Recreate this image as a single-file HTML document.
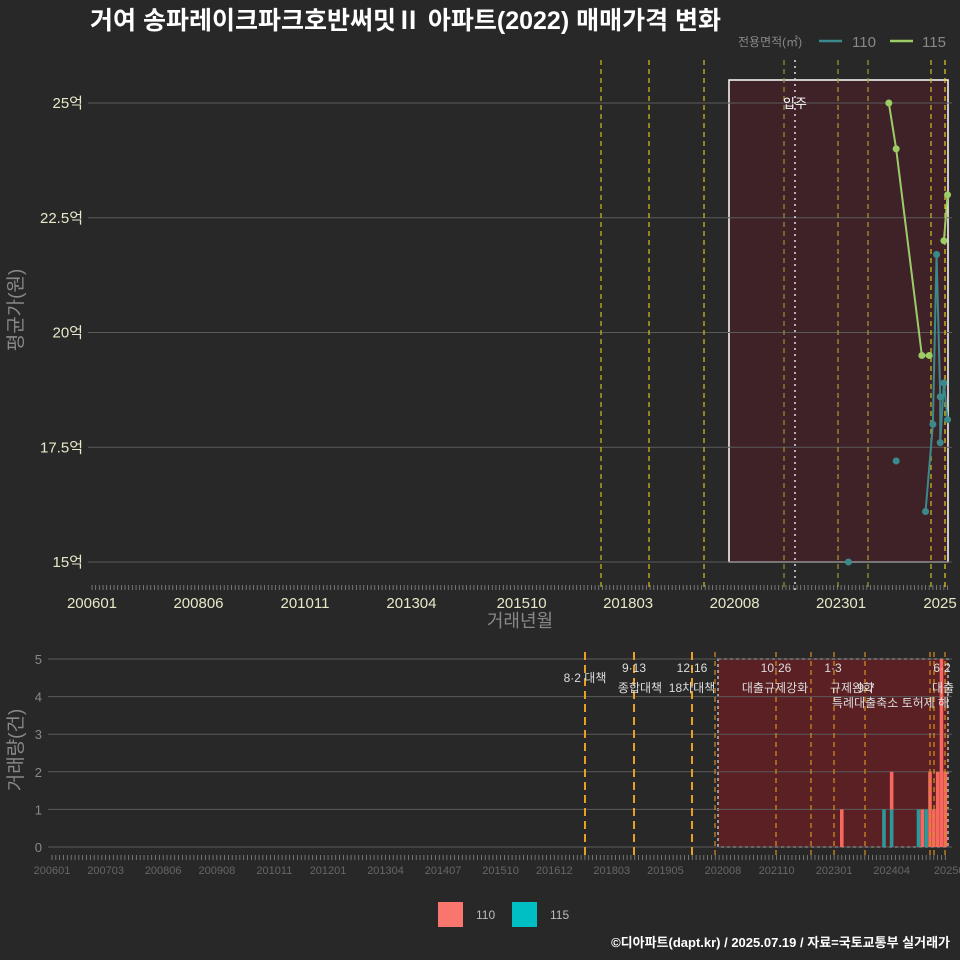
<!DOCTYPE html>
<html><head><meta charset="utf-8"><style>
body{margin:0;background:#282828;}
svg{display:block;font-family:"Liberation Sans","Noto Sans CJK KR",sans-serif;}
</style></head><body>
<svg id="c" width="960" height="960" viewBox="0 0 960 960" xmlns="http://www.w3.org/2000/svg">
<rect width="960" height="960" fill="#282828"/>
<text x="90" y="29" fill="#fff" font-size="25" font-weight="bold">거여 송파레이크파크호반써밋Ⅱ 아파트(2022) 매매가격 변화</text>
<g id="top"></g>
<g id="bot"></g>
<g>
<rect x="438" y="902" width="25" height="25" fill="#f8766d"/>
<text x="476" y="919" fill="#bbb" font-size="12">110</text>
<rect x="512" y="902" width="25" height="25" fill="#00bfc4"/>
<text x="550" y="919" fill="#bbb" font-size="12">115</text>
</g>
<text x="950" y="947" fill="#fff" font-size="13" font-weight="bold" text-anchor="end">©디아파트(dapt.kr) / 2025.07.19 / 자료=국토교통부 실거래가</text>
</svg>
<script>
// ---- data ----
const priceMonths110 = ['202303','202404','202412','202502','202503','202504','202504','202505','202506'];
const priceValues110 = [15.0,17.2,16.1,18.0,21.7,18.6,17.6,18.9,18.1];
const segBreaks110 = [1,2];
const priceMonths115 = ['202402','202404','202411','202501','202505','202506'];
const priceValues115 = [25.0,24.0,19.5,19.5,22.0,23.0];
const segBreaks115 = [4];
const volMonths110 = ['202303','202404','202412','202502','202503','202504','202505','202506'];
const volValues110 = [1,1,1,2,1,2,5,2];
const volMonths115 = ['202402','202404','202411','202501'];
const volValues115 = [1,1,1,1];
const yTicksTop = [15,17.5,20,22.5,25];
const yTickLabelsTop = ['15억','17.5억','20억','22.5억','25억'];
const xLabelsTop = ['200601','200806','201011','201304','201510','201803','202008','202301','202507'];
const xTextTop = ['200601','200806','201011','201304','201510','201803','202008','202301','2025'];
const xLabelsBot = ['200601','200703','200806','200908','201011','201201','201304','201407','201510','201612','201803','201905','202008','202110','202301','202404','202507'];
const xTextBot = ['200601','200703','200806','200908','201011','201201','201304','201407','201510','201612','201803','201905','202008','202110','202301','202404','20250'];
const yTicksBot = [0,1,2,3,4,5];
const policyMonths = ['201708','201809','201912','202110','202301','202309','202501','202506'];
const policyTop1 = ['8·2 대책','9·13','12·16','10·26','1·3','','','6·2'];
const policyTop2 = ['','종합대책','18차대책','대출규제강화','규제완화','9·7','','대출'];

const NS='http://www.w3.org/2000/svg';
function mk(p,t,a){const e=document.createElementNS(NS,t);for(const k in a)e.setAttribute(k,a[k]);p.appendChild(e);return e;}
function mi(s){return (parseInt(s.slice(0,4))-2006)*12+parseInt(s.slice(4))-1;}
const xt=m=>92+m*3.672, yt=v=>562-(v-15)*45.9;
const xb=m=>52+m*3.834, yb=v=>847-v*37.6;

// ---- top chart ----
const T=document.getElementById('top');
let sh=mk(T,'rect',{x:729,y:80,width:219,height:482,fill:'#3f2228',stroke:'#fff','stroke-width':1.5});


yTicksTop.forEach((v,i)=>{
 let l=mk(T,'line',{x1:88,x2:952,y1:yt(v),y2:yt(v),stroke:'#5a5a5a','stroke-width':1});
 
 
 let t=mk(T,'text',{x:83,y:yt(v)+5,fill:'#e8e8c8','font-size':15,'text-anchor':'end'});t.textContent=yTickLabelsTop[i];
 
 
});
for(let m=0;m<=233;m++){mk(T,'line',{x1:xt(m),x2:xt(m),y1:585,y2:590,stroke:'#888','stroke-width':0.8});}
xLabelsTop.forEach((s,i)=>{
 let t=mk(T,'text',{x:Math.min(xt(mi(s)),940),y:608,fill:'#e8e8c8','font-size':15,'text-anchor':'middle'});t.textContent=xTextTop[i];
 
 
});
const topLines=[[601,'#c8c020'],[649,'#d8c020'],[704,'#d8c020'],[784,'#8a9a30'],[838,'#a0a030'],[868,'#a0a030'],[931,'#c8c020'],[945,'#e8d020']];
topLines.forEach(([x,c])=>{let l=mk(T,'line',{x1:x,x2:x,y1:60,y2:590,stroke:c,'stroke-width':1.2,'stroke-dasharray':'5,4'});
 
 });
let dl=mk(T,'line',{x1:795,x2:795,y1:60,y2:590,stroke:'#ddd','stroke-width':1.5,'stroke-dasharray':'2,4'});


let ip=mk(T,'text',{x:795,y:108,fill:'#fff','font-size':13,'text-anchor':'middle'});ip.textContent='입주';


function series(months,vals,color,name,breaks){
 const pts=months.map((s,i)=>[xt(mi(s)),yt(vals[i])]);
 for(let i=1;i<pts.length;i++){ if(breaks.includes(i)) continue;
  let l=mk(T,'line',{x1:pts[i-1][0],y1:pts[i-1][1],x2:pts[i][0],y2:pts[i][1],stroke:color,'stroke-width':2});
  
  }
 pts.forEach(p=>{let c=mk(T,'circle',{cx:p[0],cy:p[1],r:3.5,fill:color});
  
  });
}
series(priceMonths115,priceValues115,'#9ccc65','area-115',segBreaks115);
series(priceMonths110,priceValues110,'#3a8a8c','area-110',segBreaks110);
let yt1=mk(T,'text',{x:22,y:310,fill:'#888','font-size':19,'text-anchor':'middle',transform:'rotate(-90 22 310)'});yt1.textContent='평균가(원)';


let xt1=mk(T,'text',{x:520,y:627,fill:'#888','font-size':18,'text-anchor':'middle'});xt1.textContent='거래년월';


let lg=mk(T,'text',{x:738,y:46,fill:'#888','font-size':12});lg.textContent='전용면적(㎡)';


mk(T,'line',{x1:819,x2:842,y1:41,y2:41,stroke:'#3a8a8c','stroke-width':2.5});
let l1=mk(T,'text',{x:852,y:47,fill:'#888','font-size':15});l1.textContent='110';


mk(T,'line',{x1:890,x2:913,y1:41,y2:41,stroke:'#9ccc65','stroke-width':2.5});
let l2=mk(T,'text',{x:922,y:47,fill:'#888','font-size':15});l2.textContent='115';



// ---- bottom chart ----
const B=document.getElementById('bot');
let sb=mk(B,'rect',{x:718,y:659,width:230,height:188,fill:'#5a2024',stroke:'#bbb','stroke-width':1.5,'stroke-dasharray':'3,3'});


yTicksBot.forEach(v=>{
 let l=mk(B,'line',{x1:48,x2:952,y1:yb(v),y2:yb(v),stroke:'#5a5a5a','stroke-width':1});
 
 
 let t=mk(B,'text',{x:42,y:yb(v)+5,fill:'#888','font-size':13,'text-anchor':'end'});t.textContent=v;
 
 
});
for(let m=0;m<=233;m++){mk(B,'line',{x1:xb(m),x2:xb(m),y1:855,y2:860,stroke:'#888','stroke-width':0.8});}
xLabelsBot.forEach((s,i)=>{
 let t=mk(B,'text',{x:xb(mi(s)),y:874,fill:'#666','font-size':11,'text-anchor':'middle'});t.textContent=xTextBot[i];
 
 
});
const bw=3.6, stack={};
function bars(months,vals,color,name){
 months.forEach((s,i)=>{const m=mi(s);const base=stack[m]||0;
  let r=mk(B,'rect',{x:xb(m)-bw/2,y:yb(base+vals[i]),width:bw,height:yb(base)-yb(base+vals[i]),fill:color});
  
  
  stack[m]=base+vals[i];});
}
bars(volMonths115,volValues115,'#2a9a9c','volume-115');
bars(volMonths110,volValues110,'#f8665d','volume-110');
const botLineX=[585,634,692,715,776,811,834,865,930,934,945];
botLineX.forEach((x,i)=>{let l=mk(B,'line',{x1:x,x2:x,y1:652,y2:856,stroke:i<3?'#e8a020':'#d89020','stroke-width':i<3?2:1.2,'stroke-dasharray':i<3?'8,5':'5,4'});
 
 });
const pos1=[[585,682],[634,672],[692,672],[776,672],[833,672],[0,0],[0,0],[942,672]];
const pos2=[[0,0],[640,692],[692,692],[775,692],[852,692],[866,692],[0,0],[943,692]];
policyMonths.forEach((s,i)=>{
 if(policyTop1[i]){let t=mk(B,'text',{x:pos1[i][0],y:pos1[i][1],fill:'#ddd','font-size':12,'text-anchor':'middle'});t.textContent=policyTop1[i];
  
  }
 if(policyTop2[i]){let t=mk(B,'text',{x:pos2[i][0],y:pos2[i][1],fill:'#ddd','font-size':12,'text-anchor':'middle'});t.textContent=policyTop2[i];
  
  }
});
let tx=mk(B,'text',{x:832,y:707,fill:'#ddd','font-size':12});tx.textContent='특례대출축소 토허제 해';


let yt2=mk(B,'text',{x:22,y:750,fill:'#888','font-size':19,'text-anchor':'middle',transform:'rotate(-90 22 750)'});yt2.textContent='거래량(건)';


</script>
</body></html>
